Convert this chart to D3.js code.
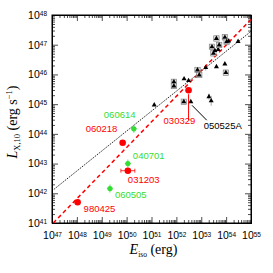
<!DOCTYPE html>
<html>
<head>
<meta charset="utf-8">
<script src="https://cdn.jsdelivr.net/npm/d3@7"></script>
<style>
  body { margin: 0; background: #fff; }
  svg { display: block; }
  text { font-family: "Liberation Sans", Arial, sans-serif; }
</style>
</head>
<body>
<svg width="273" height="273"></svg>
<script>
// log10 values
var triE = [51.11, 51.90, 51.90, 52.31, 52.49, 52.30, 52.58, 52.85, 52.92, 53.18, 53.31, 53.40,
            53.61, 53.95, 53.99, 53.61, 53.43, 53.49, 53.68, 53.72, 53.55, 53.95, 54.02, 54.10, 54.48];
var triL = [44.97, 45.75, 45.61, 45.85, 45.79, 45.08, 45.08, 46.15, 45.98, 46.23, 45.25, 45.11,
            46.26, 46.35, 46.06, 47.21, 46.93, 46.71, 46.84, 46.99, 46.80, 47.25, 47.10, 47.12, 47.11];
var triBox = [0, 1, 1, 0, 0, 1, 0, 1, 1, 0, 0, 0, 0, 0, 1, 1, 1, 1, 0, 1, 0, 1, 1, 0, 0];
var triErr = [0, 3, 3, 0, 0, 0, 0, 0, 0, 3, 3, 5, 0, 0, 0, 0, 0, 3, 0, 0, 0, 3, 0, 0, 0];

var redNames = ["980425", "060218", "031203", "030329"];
var redE = [48.03, 49.84, 50.05, 52.49];
var redL = [41.70, 43.70, 42.76, 45.47];

var greenNames = ["060614", "040701", "060505"];
var greenE = [50.29, 50.05, 49.33];
var greenL = [44.17, 43.00, 42.16];

var blackFit = [[47, 42.08], [55, 47.45]];
var redFit = [[47.05, 41.0], [55, 47.85]];

var decadesX = [47, 48, 49, 50, 51, 52, 53, 54, 55];
var decadesY = [41, 42, 43, 44, 45, 46, 47, 48];

var svg = d3.select("svg");
var margin = {"top": 15, "left": 52, "right": 22, "bottom": 50};
var width = 273 - margin.left - margin.right;
var height = 273 - margin.top - margin.bottom;

var x = d3.scaleLog().domain([1e47, 1e55]).range([0, width]);
var y = d3.scaleLog().domain([1e41, 1e48]).range([height, 0]);
var p = function(e) { return Math.pow(10, e); };

var g = svg.append("g")
    .attr("transform", "translate(" + margin.left + "," + margin.top + ")");

// minor tick values
function minors(dec) {
  var out = [];
  for (var i = 0; i < dec.length - 1; i++)
    for (var k = 2; k < 10; k++) out.push(k * p(dec[i]));
  return out;
}

function supLabel(sel, val) {
  sel.text("");
  sel.append("tspan").text("10");
  sel.append("tspan").attr("dy", "-0.45em").style("font-size", "6.5px").text(Math.round(Math.log10(val)));
}

// axes (ticks inside)
g.append("g").attr("transform", "translate(0," + height + ")")
    .call(d3.axisBottom(x).tickValues(minors(decadesX)).tickSize(-3).tickFormat(""));
g.append("g").call(d3.axisTop(x).tickValues(minors(decadesX)).tickSize(-3).tickFormat(""));
g.append("g").call(d3.axisLeft(y).tickValues(minors(decadesY)).tickSize(-3).tickFormat(""));
g.append("g").attr("transform", "translate(" + width + ",0)")
    .call(d3.axisRight(y).tickValues(minors(decadesY)).tickSize(-3).tickFormat(""));
g.append("g").call(d3.axisTop(x).tickValues(decadesX.map(p)).tickSize(-6).tickFormat(""));
g.append("g").attr("transform", "translate(" + width + ",0)")
    .call(d3.axisRight(y).tickValues(decadesY.map(p)).tickSize(-6).tickFormat(""));

var xAx = g.append("g").attr("class", "x_axis").attr("transform", "translate(0," + height + ")")
    .call(d3.axisBottom(x).tickValues(decadesX.map(p)).tickSize(-6).tickPadding(9).tickFormat(function(d) { return d; }));
xAx.selectAll("text").style("font-size", "10.5px").attr("fill", "#000")
    .each(function(d) { supLabel(d3.select(this), d); });

var yAx = g.append("g").attr("class", "y_axis")
    .call(d3.axisLeft(y).tickValues(decadesY.map(p)).tickSize(-6).tickPadding(5).tickFormat(function(d) { return d; }));
yAx.selectAll("text").style("font-size", "10.5px").attr("fill", "#000")
    .each(function(d) { supLabel(d3.select(this), d); });

g.selectAll(".domain").attr("stroke", "#000");
g.selectAll(".tick line").attr("stroke", "#000").attr("stroke-width", 0.7);
g.append("rect").attr("width", width).attr("height", height)
    .attr("fill", "none").attr("stroke", "#000").attr("stroke-width", 1);

// fits
var line = d3.line().x(function(d) { return x(p(d[0])); }).y(function(d) { return y(p(d[1])); });
g.append("path").attr("d", line(blackFit)).attr("stroke", "#000").attr("stroke-width", 0.9)
    .attr("stroke-dasharray", "1.3,1.1").attr("fill", "none");
g.append("path").attr("d", line(redFit)).attr("stroke", "#ff0000").attr("stroke-width", 1.5)
    .attr("stroke-dasharray", "4,3").attr("fill", "none");

// black triangles with grey error boxes
var tri = d3.symbol().type(d3.symbolTriangle).size(11);
triE.forEach(function(e, i) {
  var cx = x(p(e)), cy = y(p(triL[i]));
  if (triErr[i]) {
    g.append("line").attr("x1", cx).attr("x2", cx).attr("y1", cy - triErr[i]).attr("y2", cy + triErr[i])
        .attr("stroke", "#888").attr("stroke-width", 0.7);
  }
  if (triBox[i]) {
    g.append("rect").attr("x", cx - 2.7).attr("y", cy - 2.7).attr("width", 5.4).attr("height", 5.4)
        .attr("fill", "#ddd").attr("stroke", "#777").attr("stroke-width", 0.6);
  }
  g.append("path").attr("d", tri).attr("transform", "translate(" + cx + "," + cy + ")").attr("fill", "#000");
});

// annotations
var annRed = [[x(p(52.49)), y(p(45.47)) + 4], [x(p(52.49)), y(p(45.47)) + 30]];
g.append("line").attr("x1", annRed[0][0]).attr("y1", annRed[0][1]).attr("x2", annRed[1][0]).attr("y2", annRed[1][1])
    .attr("stroke", "#ff0000").attr("stroke-width", 1);
g.append("line").attr("x1", x(p(52.63))).attr("y1", y(p(44.96))).attr("x2", x(p(53.22))).attr("y2", y(p(44.46)))
    .attr("stroke", "#000").attr("stroke-width", 1);

// red and green points
g.append("line").attr("x1", x(p(49.77))).attr("x2", x(p(50.33))).attr("y1", y(p(42.76))).attr("y2", y(p(42.76)))
    .attr("stroke", "#ff0000").attr("stroke-width", 0.8);
[49.77, 50.33].forEach(function(e) {
  g.append("line").attr("x1", x(p(e))).attr("x2", x(p(e))).attr("y1", y(p(42.76)) - 2).attr("y2", y(p(42.76)) + 2)
      .attr("stroke", "#ff0000").attr("stroke-width", 0.8);
});

greenE.forEach(function(e, i) {
  var cx = x(p(e)), cy = y(p(greenL[i]));
  g.append("line").attr("x1", cx).attr("x2", cx).attr("y1", cy - 4).attr("y2", cy + 4).attr("stroke", "#33dd33").attr("stroke-width", 0.8);
  g.append("line").attr("x1", cx - 3).attr("x2", cx + 3).attr("y1", cy).attr("y2", cy).attr("stroke", "#33dd33").attr("stroke-width", 0.8);
});

g.selectAll(".red").data(redE).enter().append("circle").attr("class", "red")
    .attr("cx", function(d) { return x(p(d)); })
    .attr("cy", function(d, i) { return y(p(redL[i])); })
    .attr("r", 3.3).attr("fill", "#ff0000");
g.selectAll(".green").data(greenE).enter().append("circle").attr("class", "green")
    .attr("cx", function(d) { return x(p(d)); })
    .attr("cy", function(d, i) { return y(p(greenL[i])); })
    .attr("r", 2.6).attr("fill", "#33dd33");

// labels (offsets from points in px)
var redOff = [[6, 10], [-37, -11], [0, 12], [-25, 34]];
var greenOff = [[-30, -11], [5, -5], [5, 9]];
redNames.forEach(function(n, i) {
  g.append("text").attr("x", x(p(redE[i])) + redOff[i][0]).attr("y", y(p(redL[i])) + redOff[i][1])
      .attr("fill", "#ff0000").style("font-size", "9.5px").text(n);
});
greenNames.forEach(function(n, i) {
  g.append("text").attr("x", x(p(greenE[i])) + greenOff[i][0]).attr("y", y(p(greenL[i])) + greenOff[i][1])
      .attr("fill", "#33dd33").style("font-size", "9.5px").text(n);
});
g.append("text").attr("x", x(p(53.1))).attr("y", y(p(44.15)))
    .attr("fill", "#000").style("font-size", "9.5px").text("050525A");

// axis titles
var xt = svg.append("text").attr("x", margin.left + width / 2 + 2).attr("y", 254)
    .attr("text-anchor", "middle").style("font-family", "Liberation Serif, serif").style("font-size", "14px");
xt.append("tspan").style("font-style", "italic").text("E");
xt.append("tspan").attr("dy", "3").style("font-size", "7.5px").text("iso");
xt.append("tspan").attr("dy", "-3").text(" (erg)");

var yt = svg.append("text").attr("transform", "translate(17," + (margin.top + height / 2 + 3) + ") rotate(-90)")
    .attr("text-anchor", "middle").style("font-family", "Liberation Serif, serif").style("font-size", "14px");
yt.append("tspan").style("font-style", "italic").text("L");
yt.append("tspan").attr("dy", "3").style("font-size", "8.5px").text("X,10");
yt.append("tspan").attr("dy", "-3").text(" (erg s");
yt.append("tspan").attr("dy", "-5").style("font-size", "8.5px").text("\u22121");
yt.append("tspan").attr("dy", "5").text(")");
</script>
</body>
</html>
